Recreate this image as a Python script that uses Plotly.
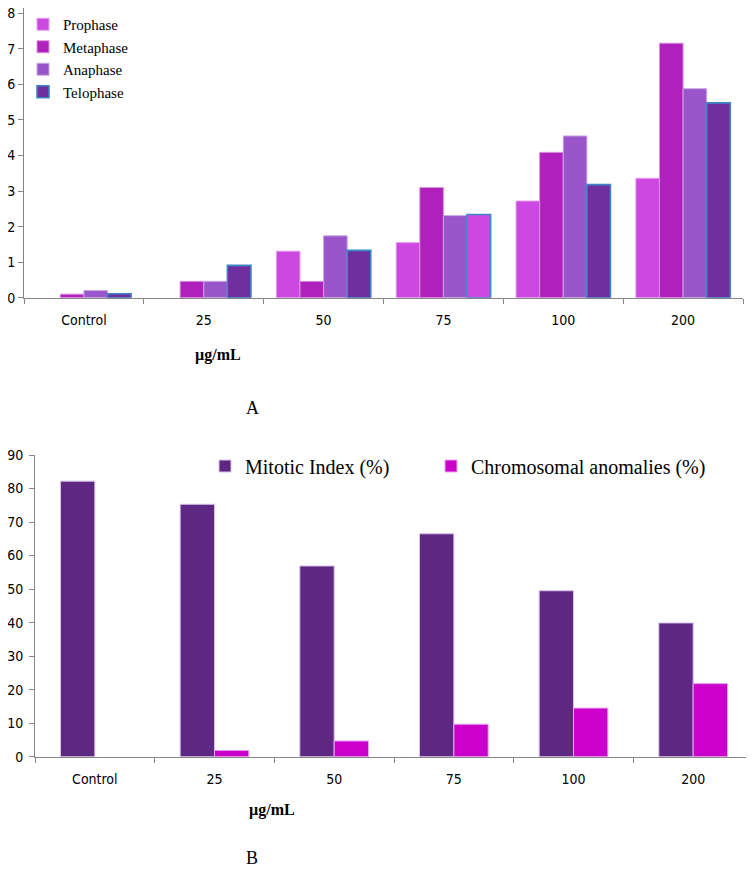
import plotly.graph_objects as go

# doses (x categories) shared by both panels
doses = ["Control", "25", "50", "75", "100", "200"]

# panel A: chromosomal anomaly frequency by mitotic phase (None = no bar drawn)
prophase = [None, None, 1.31, 1.55, 2.72, 3.36]
metaphase = [0.10, 0.46, 0.46, 3.10, 4.09, 7.16]
anaphase = [0.20, 0.46, 1.74, 2.31, 4.55, 5.88]
telophase = [0.11, 0.91, 1.33, 2.34, 3.18, 5.48]

# panel B: mitotic index vs chromosomal anomalies (%)
mitotic_index = [82.2, 75.3, 56.9, 66.5, 49.5, 39.9]
chrom_anomalies = [None, 1.9, 4.7, 9.7, 14.5, 21.8]

# page body has an 8px margin, so the figure is a bit smaller than the window
PAD = 8
W, H = 754 - PAD, 870 - PAD
PRO = "#CC48E0"
META = "#B020BC"
ANA = "#9955CA"
TELO = "#6F2F9F"
MIT = "#5E2781"
CHR = "#CC00CC"

tick_font = dict(family="Liberation Sans Narrow, DejaVu Sans Condensed, Arial Narrow, Liberation Sans",
                 size=14, color="#000000")
serif = "Liberation Serif, Times New Roman, serif"

# helpers: screen pixel -> paper fraction (clamped to the figure)
def px_x(p):
    return min(max((p - PAD) / W, 0), 1)

def px_y(p):
    return min(max(1 - (p - PAD) / H, 0), 1)

fig = go.Figure()

# the 75 telophase bar is drawn in the prophase colour in the original
telo_colors = [PRO if d == "75" else TELO for d in doses]

bw = 0.197
phase_traces = [
    ("Prophase", prophase, PRO, "#E6A0F0", 1.0),
    ("Metaphase", metaphase, META, "#D890E0", 1.0),
    ("Anaphase", anaphase, ANA, "#C9A6E6", 1.0),
    ("Telophase", telophase, telo_colors, "#3F86C6", 1.6),
]
for i, (name, vals, col, lcol, lw) in enumerate(phase_traces):
    fig.add_trace(go.Bar(
        x=doses, y=vals, name=name, xaxis="x", yaxis="y",
        offset=-2 * bw + i * bw, width=bw,
        marker=dict(color=col, line=dict(color=lcol, width=lw)),
        legend="legend",
    ))

bw2 = 0.287
fig.add_trace(go.Bar(
    x=doses, y=mitotic_index, name="Mitotic Index (%)", xaxis="x2", yaxis="y2",
    offset=-bw2, width=bw2,
    marker=dict(color=MIT, line=dict(color="#D9C2EC", width=1)),
    legend="legend2",
))
fig.add_trace(go.Bar(
    x=doses, y=chrom_anomalies, name="Chromosomal anomalies (%)", xaxis="x2", yaxis="y2",
    offset=0, width=bw2,
    marker=dict(color=CHR, line=dict(color="#E9A6EE", width=1)),
    legend="legend3",
))

axis_common = dict(showgrid=False, zeroline=False, showline=True, linecolor="#868686",
                   linewidth=1, ticks="outside", ticklen=5, tickcolor="#868686",
                   tickfont=tick_font, automargin=False)

fig.update_layout(
    width=W, height=H,
    margin=dict(l=0, r=0, t=0, b=0, autoexpand=False),
    paper_bgcolor="white", plot_bgcolor="white",
    barmode="overlay",
    xaxis=dict(domain=[px_x(24), px_x(743)], anchor="y", type="category",
               tickson="boundaries", ticklabelstandoff=9, **axis_common),
    yaxis=dict(domain=[px_y(297.7), px_y(8)], anchor="x", range=[0, 8.15], dtick=1,
               ticklabelstandoff=0, ticklabeloverflow="allow", **axis_common),
    xaxis2=dict(domain=[px_x(35), px_x(753)], anchor="y2", type="category",
                tickson="boundaries", ticklabelstandoff=9, **axis_common),
    yaxis2=dict(domain=[px_y(756.7), px_y(455)], anchor="x2", range=[0, 90], dtick=10,
                ticklabelstandoff=3, ticklabeloverflow="allow", **axis_common),
    legend=dict(x=px_x(23), y=px_y(7), xanchor="left", yanchor="top",
                font=dict(family=serif, size=15, color="#000000"),
                bgcolor="rgba(0,0,0,0)", itemwidth=30, tracegroupgap=0,
                traceorder="normal"),
    legend2=dict(x=px_x(205), y=px_y(466), xanchor="left", yanchor="middle",
                 font=dict(family=serif, size=20, color="#000000"),
                 bgcolor="rgba(0,0,0,0)", itemwidth=30),
    legend3=dict(x=px_x(431), y=px_y(466), xanchor="left", yanchor="middle",
                 font=dict(family=serif, size=20, color="#000000"),
                 bgcolor="rgba(0,0,0,0)", itemwidth=30),
    showlegend=True,
)

title_font = dict(family=serif, size=16, color="#000000")
fig.add_annotation(text="<b>µg/mL</b>", x=px_x(218), y=px_y(355), xref="paper", yref="paper",
                   showarrow=False, font=title_font, xanchor="center", yanchor="middle")
fig.add_annotation(text="A", x=px_x(252), y=px_y(408), xref="paper", yref="paper",
                   showarrow=False, font=dict(family=serif, size=18, color="#000000"),
                   xanchor="center", yanchor="middle")
fig.add_annotation(text="<b>µg/mL</b>", x=px_x(272), y=px_y(810), xref="paper", yref="paper",
                   showarrow=False, font=title_font, xanchor="center", yanchor="middle")
fig.add_annotation(text="B", x=px_x(252), y=px_y(858), xref="paper", yref="paper",
                   showarrow=False, font=dict(family=serif, size=18, color="#000000"),
                   xanchor="center", yanchor="middle")

fig.write_html("out.html")
